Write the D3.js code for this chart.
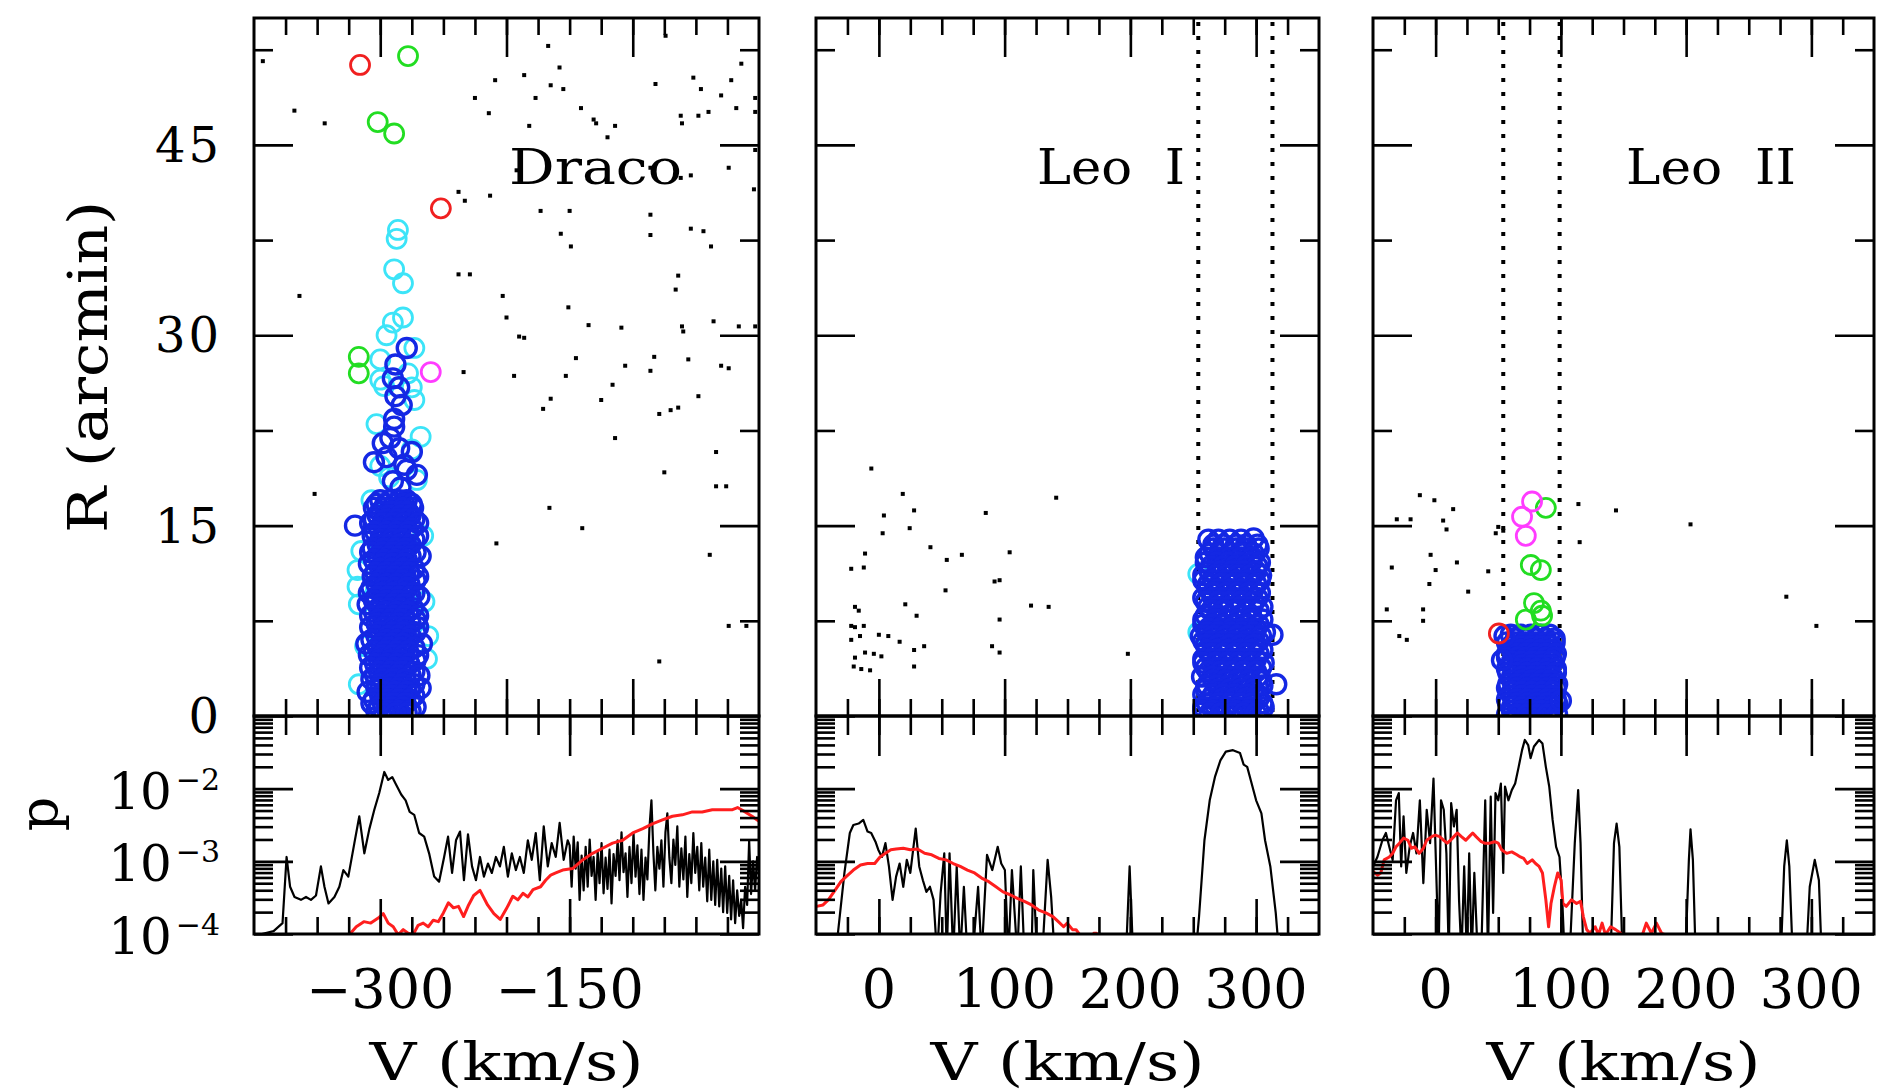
<!DOCTYPE html>
<html>
<head>
<meta charset="utf-8">
<title>Draco, Leo I, Leo II velocities</title>
<style>
  body { margin: 0; background: #fff; }
  text { font-family: "DejaVu Serif", serif; fill: #000; }
  .frame { fill: none; stroke: #000; stroke-width: 3; }
  .tk line { stroke: #000; stroke-width: 2.6; }
  .star { fill: #000; }
  .ring { fill: none; }
  .cut { stroke: #000; stroke-width: 4; stroke-dasharray: 4 10; }
  .obs { fill: none; stroke: #000; stroke-width: 2.2; stroke-linejoin: round; }
  .mw { fill: none; stroke: #ff1e1e; stroke-width: 3; stroke-linejoin: round; }
</style>
</head>
<body>
<svg width="1877" height="1091"></svg>
<script src="https://d3js.org/d3.v7.min.js"></script>
<script>

// ---- data: [V (km/s), R (arcmin)] ----
var dracoRange = [-400, 0], leo1Range = [-50, 350], leo2Range = [-50, 350];
var rRange = [0, 55], pRange = [1e-4, 1e-1];

var dracoStars = [
  [-393,51.6],[-368,47.7],[-344,46.7],[-364,33.1],[-352,17.5],[-208,13.6],[-166,16.4],[-140,14.8],[-39,12.7],[-79,4.3],
  [-24,7.1],[-10,7.1],[-34,18.1],[-26,18.1],[-75,19.2],[-34,20.8],[-114,21.9],[-165,25.0],[-171,24.2],[-125,24.9],
  [-79,23.8],[-70,24.1],[-64,24.3],[-48,25.2],[-194,26.8],[-153,26.8],[-116,26.1],[-234,27.1],[-190,29.9],[-186,29.8],
  [-145,28.2],[-106,27.6],[-86,27.2],[-83,28.3],[-56,28.1],[-30,27.6],[-24,27.4],[-135,30.8],[-109,30.6],[-61,30.7],
  [-60,30.3],[-36,31.1],[-16,30.7],[-3,30.7],[-203,33.1],[-200,31.4],[-151,32.2],[-64,34.7],[-66,33.6],[-238,34.8],
  [-229,34.8],[-157,38.0],[-149,37.0],[-86,37.9],[-86,39.5],[-54,38.4],[-44,38.2],[-38,37.0],[-173,39.8],[-150,39.8],
  [-238,41.3],[-233,40.6],[-213,41.0],[-192,43.0],[-189,42.4],[-62,42.4],[-54,42.6],[-4,41.5],[-86,43.2],[-24,43.2],
  [-225,48.7],[-214,47.5],[-209,50.1],[-186,50.5],[-182,46.5],[-177,48.7],[-165,49.7],[-155,49.4],[-158,51.1],[-141,47.9],
  [-131,47.0],[-129,46.7],[-120,45.6],[-114,46.5],[-82,49.8],[-52,50.3],[-46,49.4],[-30,48.9],[-22,50.1],[-48,47.3],
  [-40,47.6],[-18,47.9],[-62,47.3],[-61,46.7],[-14,51.4],[-3,48.7],[-3,47.6],[-74,53.6],[-167,52.8],[-3,44.6]
];
var dracoCyan = [
  [-286,38.3],[-287,37.6],[-289,35.2],[-282,34.1],[-282,31.4],[-290,31.0],[-295,30.0],[-273,29.0],[-300,28.1],[-278,27.0],
  [-300,26.5],[-297,26.0],[-275,25.9],[-273,24.9],[-303,23.0],[-268,22.0],[-275,21.0],[-300,19.7],[-271,18.6],[-293,18.8],
  [-307,17.0],[-266,14.2],[-315,13.0],[-318,11.5],[-318,10.2],[-317,8.8],[-265,9.0],[-262,6.3],[-312,5.5],[-263,4.5],[-317,2.5]
];
var dracoBlue = [
  [-279,29.0],[-288,27.7],[-285,25.9],[-288,25.2],[-290,26.6],[-283,24.5],[-289,23.4],[-289,22.8],[-292,21.9],[-298,21.5],
  [-285,21.1],[-295,20.4],[-305,20.0],[-275,20.8],[-281,19.8],[-279,19.4],[-271,19.0],[-320,15.0],[-290,18.5],[-284,18.0],
  [-300,17.0],[-292,17.0],[-285,17.0],[-279,17.0],
  [-303,16.7],[-296,16.7],[-289,16.7],[-281,16.7],[-275,16.7],
  [-305,16.4],[-296,16.4],[-288,16.4],[-282,16.4],[-274,16.4],
  [-300,16.1],[-291,16.1],[-283,16.1],[-278,16.1],
  [-302,15.8],[-293,15.8],[-284,15.8],[-276,15.8],
  [-305,15.5],[-295,15.5],[-287,15.5],[-279,15.5],[-273,15.5],
  [-308,15.2],[-298,15.2],[-290,15.2],[-281,15.2],[-270,15.2],
  [-301,14.8],[-292,14.8],[-284,14.8],[-275,14.8],
  [-304,14.5],[-295,14.5],[-287,14.5],[-278,14.5],
  [-306,14.2],[-296,14.2],[-288,14.2],[-279,14.2],[-270,14.2],
  [-300,13.9],[-291,13.9],[-283,13.9],[-273,13.9],
  [-302,13.5],[-293,13.5],[-285,13.5],[-276,13.5],
  [-306,13.2],[-297,13.2],[-288,13.2],[-280,13.2],
  [-308,12.9],[-298,12.9],[-290,12.9],[-281,12.9],[-272,12.9],
  [-302,12.6],[-293,12.6],[-285,12.6],[-276,12.6],[-268,12.6],
  [-305,12.3],[-296,12.3],[-288,12.3],[-279,12.3],
  [-309,12.0],[-298,12.0],[-290,12.0],[-281,12.0],
  [-300,11.6],[-291,11.6],[-282,11.6],[-273,11.6],
  [-304,11.3],[-295,11.3],[-286,11.3],[-277,11.3],
  [-306,11.0],[-297,11.0],[-289,11.0],[-280,11.0],[-270,11.0],
  [-300,10.7],[-291,10.7],[-283,10.7],[-272,10.7],
  [-303,10.4],[-295,10.4],[-287,10.4],[-277,10.4],
  [-307,10.1],[-297,10.1],[-288,10.1],[-279,10.1],
  [-309,9.7],[-299,9.7],[-290,9.7],[-281,9.7],[-273,9.7],
  [-303,9.4],[-294,9.4],[-285,9.4],[-276,9.4],[-269,9.4],
  [-305,9.1],[-295,9.1],[-286,9.1],[-277,9.1],
  [-310,8.8],[-299,8.8],[-290,8.8],[-281,8.8],
  [-301,8.5],[-293,8.5],[-284,8.5],[-274,8.5],
  [-305,8.2],[-296,8.2],[-287,8.2],[-278,8.2],
  [-308,7.9],[-298,7.9],[-289,7.9],[-281,7.9],[-270,7.9],
  [-301,7.6],[-292,7.6],[-284,7.6],[-272,7.6],
  [-303,7.3],[-294,7.3],[-286,7.3],[-276,7.3],
  [-308,7.0],[-297,7.0],[-289,7.0],[-280,7.0],[-270,7.0],
  [-300,6.6],[-290,6.6],[-282,6.6],[-272,6.6],
  [-303,6.3],[-294,6.3],[-286,6.3],[-276,6.3],
  [-307,6.0],[-295,6.0],[-287,6.0],[-278,6.0],
  [-311,5.7],[-299,5.7],[-291,5.7],[-282,5.7],[-267,5.7],
  [-302,5.4],[-293,5.4],[-284,5.4],[-273,5.4],
  [-305,5.1],[-296,5.1],[-287,5.1],[-278,5.1],
  [-309,4.8],[-298,4.8],[-290,4.8],[-281,4.8],[-270,4.8],
  [-301,4.4],[-292,4.4],[-284,4.4],[-272,4.4],
  [-304,4.1],[-295,4.1],[-287,4.1],[-277,4.1],
  [-308,3.8],[-298,3.8],[-289,3.8],[-280,3.8],
  [-301,3.5],[-292,3.5],[-283,3.5],[-273,3.5],
  [-304,3.2],[-295,3.2],[-286,3.2],[-276,3.2],[-269,3.2],
  [-307,2.9],[-298,2.9],[-290,2.9],[-280,2.9],
  [-300,2.5],[-291,2.5],[-283,2.5],[-273,2.5],
  [-303,2.2],[-294,2.2],[-286,2.2],[-276,2.2],[-268,2.2],
  [-310,1.9],[-297,1.9],[-288,1.9],[-279,1.9],
  [-300,1.6],[-291,1.6],[-282,1.6],[-273,1.6],
  [-305,1.3],[-294,1.3],[-285,1.3],[-276,1.3],
  [-307,1.0],[-298,1.0],[-289,1.0],[-280,1.0],
  [-301,0.7],[-291,0.7],[-282,0.7],[-272,0.7],
  [-303,0.4],[-294,0.4],[-285,0.4],[-276,0.4],
  [-297,0.2],[-288,0.2],[-279,0.2]
];
var dracoGreen = [[-278,52.0],[-302,46.8],[-289,45.9],[-317,28.3],[-317,27.0]];
var dracoRed = [[-316,51.3],[-252,40.0]];
var dracoMagenta = [[-260,27.1]];

var leo1Stars = [
  [-6,19.5],[19,17.5],[28,16.2],[4,15.8],[24.5,14.8],[3,14.4],[85,16.0],[141,17.2],[-11,12.8],[-22,11.6],
  [-12,11.7],[41,13.3],[54,12.3],[66,12.7],[104,12.9],[92,10.6],[96,10.7],[53,9.9],[21,8.8],[30,7.9],
  [121,8.7],[135,8.6],[96,7.6],[-19,8.6],[-16,8.3],[-22,7.1],[-19,7.0],[-12,7.1],[-22,6.0],[-15,6.3],
  [0,6.4],[7.5,6.3],[16.5,5.85],[-11,5.0],[-4,4.9],[2,4.7],[-19,4.6],[-20,3.9],[-14,3.7],[-7,3.6],
  [28,5.2],[36,5.5],[28,3.9],[90,5.5],[96,5.0],[198,4.9]
];
var leo1Cyan = [[254,11.2],[254,6.6]];
var leo1Blue = [
  [262,13.9],[270,13.9],[279,13.9],[288,13.9],[298,14.0],
  [266,13.5],[274,13.5],[284,13.5],[292,13.5],[301,13.5],
  [266,13.2],[275,13.2],[284,13.2],[293,13.2],[302,13.2],
  [263,12.8],[271,12.8],[280,12.8],[289,12.8],[298,12.8],
  [260,12.5],[270,12.5],[279,12.5],[288,12.5],[297,12.5],
  [260,12.1],[269,12.1],[278,12.1],[287,12.1],[296,12.1],[303,12.1],
  [264,11.8],[274,11.8],[283,11.8],[292,11.8],[301,11.8],
  [263,11.4],[272,11.4],[281,11.4],[290,11.4],[300,11.4],
  [258,11.1],[268,11.1],[277,11.1],[286,11.1],[296,11.1],[304,11.1],
  [258,10.7],[266,10.7],[276,10.7],[285,10.7],[294,10.7],[303,10.7],
  [262,10.4],[272,10.4],[281,10.4],[290,10.4],[300,10.4],
  [262,10.0],[270,10.0],[280,10.0],[289,10.0],[298,10.0],
  [266,9.7],[276,9.7],[285,9.7],[294,9.7],[303,9.7],
  [258,9.3],[266,9.3],[274,9.3],[283,9.3],[292,9.3],[301,9.3],
  [260,9.0],[270,9.0],[279,9.0],[288,9.0],[298,9.0],
  [262,8.6],[270,8.6],[279,8.6],[288,8.6],[297,8.6],[305,8.6],
  [264,8.3],[274,8.3],[283,8.3],[292,8.3],[302,8.3],
  [260,7.9],[269,7.9],[278,7.9],[287,7.9],[296,7.9],
  [258,7.6],[268,7.6],[277,7.6],[286,7.6],[296,7.6],[305,7.6],
  [258,7.2],[266,7.2],[275,7.2],[284,7.2],[293,7.2],[302,7.2],
  [262,6.9],[272,6.9],[281,6.9],[290,6.9],[300,6.9],
  [261,6.6],[270,6.6],[280,6.6],[289,6.6],[298,6.6],[307,6.6],
  [256,6.3],[266,6.3],[276,6.3],[285,6.3],[294,6.3],[304,6.3],[313,6.4],
  [258,5.9],[265,5.9],[274,5.9],[283,5.9],[292,5.9],[302,5.9],
  [260,5.6],[270,5.6],[279,5.6],[288,5.6],[298,5.6],
  [261,5.2],[269,5.2],[278,5.2],[287,5.2],[296,5.2],[305,5.2],
  [264,4.9],[274,4.9],[283,4.9],[292,4.9],[302,4.9],
  [258,4.5],[265,4.5],[273,4.5],[282,4.5],[291,4.5],[300,4.5],
  [258,4.2],[268,4.2],[277,4.2],[286,4.2],[296,4.2],[306,4.2],
  [260,3.8],[269,3.8],[278,3.8],[287,3.8],[296,3.8],[304,3.8],
  [262,3.5],[272,3.5],[281,3.5],[290,3.5],[300,3.5],
  [257,3.1],[265,3.1],[274,3.1],[283,3.1],[292,3.1],[301,3.1],
  [266,2.8],[276,2.8],[285,2.8],[294,2.8],[304,2.8],
  [261,2.4],[269,2.4],[278,2.4],[287,2.4],[296,2.4],[305,2.4],
  [260,2.1],[270,2.1],[279,2.1],[288,2.1],[298,2.1],[316,2.5],
  [258,1.7],[266,1.7],[274,1.7],[283,1.7],[292,1.7],[301,1.7],
  [264,1.4],[274,1.4],[283,1.4],[292,1.4],[302,1.4],
  [261,1.0],[270,1.0],[279,1.0],[288,1.0],[297,1.0],[305,1.0],
  [258,0.7],[268,0.7],[277,0.7],[286,0.7],[296,0.7],[306,0.7],
  [258,0.4],[266,0.4],[275,0.4],[284,0.4],[293,0.4],[302,0.4],
  [263,0.2],[272,0.2],[281,0.2],[290,0.2],[300,0.2]
];

var leo2Stars = [
  [-12.6,17.4],[-1,17.0],[14,16.3],[-31,15.5],[-20,15.5],[6,15.4],[8.7,14.7],[50,14.9],[48,14.4],[54,14.6],
  [114,16.7],[144,16.2],[203.5,15.1],[115,13.7],[-4,12.7],[17,12.1],[-35,11.7],[0,11.5],[42,11.4],[-5,10.4],
  [26,9.8],[-39,8.4],[-10,8.4],[-10,7.5],[-29,6.3],[-23,6.0],[280,9.4],[304,7.1]
];
var leo2Blue = [
  [60,6.4],[68,6.4],[76,6.4],[84,6.4],[91,6.4],
  [64,6.1],[72,6.1],[80,6.1],[88,6.1],[95,6.1],
  [57,5.8],[64,5.8],[72,5.8],[80,5.8],[88,5.8],[95,5.8],
  [60,5.5],[68,5.5],[76,5.5],[84,5.5],[92,5.5],
  [61,5.2],[68,5.2],[76,5.2],[84,5.2],[92,5.2],
  [57,4.9],[64,4.9],[72,4.9],[80,4.9],[88,4.9],[96,4.9],
  [57,4.6],[65,4.6],[72,4.6],[80,4.6],[88,4.6],[95,4.6],
  [61,4.3],[69,4.3],[77,4.3],[85,4.3],[93,4.3],
  [61,4.0],[69,4.0],[77,4.0],[85,4.0],[92,4.0],
  [57,3.7],[65,3.7],[73,3.7],[81,3.7],[89,3.7],[96,3.7],
  [58,3.4],[65,3.4],[73,3.4],[81,3.4],[89,3.4],[96,3.4],
  [61,3.1],[69,3.1],[77,3.1],[85,3.1],[93,3.1],
  [61,2.8],[69,2.8],[77,2.8],[85,2.8],[92,2.8],
  [58,2.5],[65,2.5],[73,2.5],[81,2.5],[89,2.5],[97,2.5],
  [57,2.2],[65,2.2],[73,2.2],[81,2.2],[89,2.2],[96,2.2],
  [61,1.9],[69,1.9],[77,1.9],[85,1.9],[93,1.9],
  [61,1.6],[69,1.6],[77,1.6],[85,1.6],[93,1.6],
  [57,1.3],[65,1.3],[73,1.3],[81,1.3],[89,1.3],[96,1.3],
  [58,1.0],[65,1.0],[73,1.0],[81,1.0],[89,1.0],[97,1.0],
  [61,0.7],[69,0.7],[77,0.7],[85,0.7],[93,0.7],
  [61,0.4],[69,0.4],[77,0.4],[85,0.4],[93,0.4],
  [57,0.1],[65,0.1],[73,0.1],[81,0.1],[89,0.1],[97,0.1],
  [55,6.3],[53,4.4],[100,1.2]
];
var leo2Green = [[88,16.4],[76,11.9],[84,11.5],[78.5,8.9],[84,8.3],[72,7.6],[85,7.9]];
var leo2Magenta = [[77,16.9],[69,15.7],[72,14.2]];
var leo2Red = [[50.5,6.5]];

// membership velocity cuts (dotted lines)
var leo1Cuts = [254, 313];
var leo2Cuts = [54, 99];

// ---- lower panels: [V (km/s), log10 p] ----
var dracoObs = [
  [-400,-4.02],[-398,-4.02],[-384.5,-3.96],[-377.4,-3.85],[-374.2,-2.94],[-371.4,-3.35],[-367.9,-3.49],[-362.8,-3.53],
  [-358.8,-3.49],[-354.9,-3.53],[-350.9,-3.47],[-347,-3.07],[-344.2,-3.35],[-341,-3.58],[-336.3,-3.49],[-332.4,-3.35],
  [-329.2,-3.12],[-325.3,-3.21],[-320.5,-2.75],[-316.6,-2.38],[-312.6,-2.89],[-308.7,-2.56],[-304.7,-2.29],[-300.8,-2.06],
  [-296.8,-1.77],[-293.7,-1.88],[-290.5,-1.84],[-287.3,-1.95],[-283.4,-2.08],[-279.9,-2.16],[-276.7,-2.32],[-273.1,-2.36],
  [-269.2,-2.61],[-265.2,-2.66],[-261.3,-2.89],[-257.3,-3.21],[-253.4,-3.28],[-249.4,-2.94],[-246.3,-2.66],[-243.1,-3.16],
  [-240,-2.71],[-236.8,-2.59],[-233.7,-3.26],[-230.5,-2.63],[-227.3,-3.07],[-224.2,-3.26],[-221,-2.94],[-217.9,-3.21],
  [-214.7,-3.03],[-211.6,-3.16],[-208.4,-2.94],[-205.2,-3.07],[-202.1,-2.80],[-198.9,-3.21],[-195.8,-2.89],[-192.6,-3.12],
  [-189.4,-2.94],[-186.3,-3.16],[-183.1,-2.71],[-180,-2.98],[-176.8,-2.61],[-173.6,-3.26],[-170.5,-2.52],[-167.3,-3.07],
  [-164.2,-2.75],[-161,-2.94],[-157.9,-2.47],[-154.7,-2.98],[-151.5,-2.71],
  [-150.0,-2.78],[-148.4,-3.35],[-146.8,-2.66],[-145.2,-3.10],[-143.6,-2.74],[-142.1,-3.53],[-140.5,-2.92],[-138.9,-3.40],
  [-137.3,-2.80],[-135.7,-3.35],[-134.1,-2.70],[-132.6,-3.20],[-131.0,-2.94],[-129.4,-3.53],[-127.8,-2.86],[-126.3,-3.30],
  [-124.7,-2.75],[-123.1,-3.44],[-121.5,-2.95],[-120.0,-3.38],[-118.4,-2.84],[-116.8,-3.58],[-115.2,-2.90],[-113.6,-3.20],
  [-112.0,-2.71],[-110.5,-3.26],[-108.9,-2.60],[-107.3,-3.15],[-105.7,-2.89],[-104.2,-3.49],[-102.6,-2.80],[-101.0,-3.30],
  [-99.4,-2.61],[-97.8,-3.21],[-96.3,-2.78],[-94.7,-3.45],[-93.1,-2.84],[-91.5,-3.53],[-89.9,-2.95],[-88.4,-3.25],
  [-86.8,-2.55],[-85.2,-2.16],[-83.6,-2.90],[-82.1,-3.40],[-80.5,-2.80],[-78.9,-3.10],[-77.3,-2.71],[-75.7,-3.35],
  [-74.1,-2.60],[-72.6,-2.34],[-71.0,-2.95],[-69.4,-3.30],[-67.8,-2.70],[-66.3,-3.05],[-64.7,-2.52],[-63.1,-3.35],
  [-61.5,-2.82],[-59.9,-3.25],[-58.3,-2.66],[-56.8,-3.49],[-55.2,-2.90],[-53.6,-3.30],[-52.0,-2.61],[-50.5,-3.16],
  [-48.9,-2.80],[-47.3,-3.40],[-45.7,-2.75],[-44.2,-3.35],[-42.6,-2.95],[-41.0,-3.55],[-39.4,-2.84],[-37.8,-3.53],
  [-36.2,-3.00],[-34.7,-3.60],[-33.1,-2.98],[-31.5,-3.62],[-29.9,-3.10],[-28.4,-3.70],[-26.8,-3.07],[-25.2,-3.71],
  [-23.6,-3.20],[-22.1,-3.80],[-20.5,-3.26],[-18.9,-3.85],[-17.3,-3.40],[-15.7,-3.75],[-14.1,-3.53],[-12.6,-3.92],
  [-11.0,-3.35],[-9.4,-3.60],[-7.8,-2.71],[-6.3,-3.45],[-4.7,-3.00],[-3.1,-3.40],[-1.5,-2.94],[0,-3.16]
];
var dracoMW = [
  [-325,-4.02],[-319,-3.90],[-313,-3.83],[-307.5,-3.85],[-301.6,-3.78],[-297.6,-3.72],[-293.7,-3.85],[-289.7,-3.90],
  [-285.8,-4.01],[-281.8,-3.94],[-277.9,-3.99],[-274,-4.01],[-270,-3.88],[-266,-3.85],[-262,-3.90],[-258,-3.81],
  [-254,-3.83],[-250,-3.71],[-246,-3.57],[-242,-3.64],[-238,-3.62],[-234,-3.76],[-230,-3.60],[-226,-3.47],[-221,-3.40],
  [-215,-3.60],[-210,-3.72],[-205,-3.80],[-200,-3.65],[-195,-3.48],[-191,-3.53],[-187,-3.44],[-183,-3.49],[-179,-3.39],
  [-173,-3.35],[-169,-3.26],[-165,-3.19],[-161,-3.16],[-155.5,-3.12],[-147.6,-3.10],[-139.7,-2.98],[-131.8,-2.89],
  [-123.9,-2.82],[-116,-2.75],[-108,-2.71],[-100,-2.61],[-92,-2.55],[-84,-2.48],[-76.5,-2.43],[-68.6,-2.38],
  [-60.7,-2.36],[-52.8,-2.32],[-45,-2.32],[-37,-2.29],[-29,-2.29],[-21,-2.29],[-17,-2.26],[-11,-2.32],[-5.5,-2.38],[0,-2.45]
];
var leo1Obs = [
  [-50,-4.3],[-34.5,-4.3],[-27.4,-3.16],[-23.1,-2.61],[-20.3,-2.50],[-16.1,-2.48],[-12.4,-2.43],[-9,-2.59],[-6.1,-2.61],
  [-2.7,-2.73],[-0.5,-2.84],[2.4,-2.94],[5.2,-2.75],[8,-3.07],[10.9,-3.53],[13.7,-3.21],[16.5,-3.03],[19.4,-3.35],
  [22.2,-2.98],[25,-3.16],[29.3,-2.55],[32.1,-3.07],[35,-3.26],[37.8,-3.42],[40.6,-3.35],[43.5,-3.53],[46.3,-4.3],
  [49.1,-3.44],[52,-2.89],[54,-4.3],[56.2,-2.89],[59.1,-4.3],[61.9,-3.07],[64.7,-4.3],[67.6,-3.35],[70.4,-4.3],
  [74.6,-4.3],[78.9,-3.35],[81.7,-4.3],[86,-2.91],[90.2,-3.12],[94.5,-2.80],[97.3,-3.03],[100.2,-3.12],[103,-4.3],
  [105.8,-3.12],[110.1,-4.3],[112.9,-3.07],[115.7,-4.3],[121.4,-4.3],[122.8,-3.12],[125.7,-4.3],[129.9,-4.3],
  [134.2,-2.98],[137,-3.49],[139.8,-4.3],[196.5,-4.3],[199.4,-3.07],[202.2,-4.3],[251.8,-4.3],[254.6,-3.76],
  [258.9,-2.71],[263.1,-2.16],[267.4,-1.83],[271.6,-1.61],[275.9,-1.49],[281.6,-1.47],[287.2,-1.51],[290.1,-1.67],
  [292.9,-1.70],[295.7,-1.88],[300,-2.16],[304.2,-2.34],[307.1,-2.71],[311.3,-3.07],[315.6,-3.71],[318.4,-4.3],[350,-4.3]
];
var leo1MW = [
  [-49.5,-3.62],[-44.4,-3.60],[-40.2,-3.53],[-34.5,-3.39],[-30.2,-3.28],[-26,-3.21],[-20.3,-3.12],[-14.6,-3.05],
  [-9,-3.03],[-3.3,-3.03],[0.9,-2.94],[5.2,-2.89],[9.5,-2.84],[13.7,-2.83],[19.4,-2.82],[25,-2.84],[30.7,-2.83],
  [36.4,-2.89],[42,-2.91],[47.7,-2.96],[53.4,-2.98],[59.1,-3.03],[64.7,-3.07],[70.4,-3.12],[76.1,-3.16],[81.7,-3.23],
  [87.4,-3.28],[93.1,-3.35],[98.7,-3.42],[104.4,-3.46],[110.1,-3.51],[115.7,-3.55],[121.4,-3.60],[127.1,-3.67],
  [132.8,-3.71],[138.4,-3.76],[142.7,-3.83],[146.9,-3.90],[149.8,-3.85],[154,-3.94],[156.8,-3.94],[159.7,-4.01],
  [162,-4.3],[168,-4.3],[171,-3.99],[173,-3.99],[175,-4.3]
];
var leo2Obs = [
  [-50,-3.07],[-46.5,-2.94],[-42.5,-2.71],[-39.7,-2.61],[-37,-2.80],[-34.3,-2.98],[-31.6,-2.16],[-29.4,-2.06],
  [-27.5,-3.07],[-25.6,-2.38],[-23.4,-3.16],[-20.7,-2.80],[-18,-2.61],[-15.3,-2.89],[-12.6,-2.16],[-9.8,-3.30],
  [-7.1,-2.29],[-4.4,-2.75],[-1.7,-1.86],[0.5,-3.16],[2.4,-4.3],[4.3,-2.16],[6.5,-2.29],[8.6,-2.89],[10.5,-4.3],
  [12.4,-2.20],[14.6,-2.52],[16.8,-2.29],[18.7,-3.53],[20.6,-4.3],[22.8,-3.07],[24.9,-4.3],[26.8,-2.89],[28.8,-4.3],
  [30.9,-3.16],[33.6,-4.3],[36.4,-4.3],[39.6,-2.16],[41.8,-4.3],[44,-2.11],[45.9,-3.71],[47.8,-2.06],[50,-2.16],
  [52.1,-1.93],[54,-3.16],[55.4,-1.97],[58.1,-2.16],[60.8,-2.02],[63.5,-1.93],[66.3,-1.70],[69,-1.47],[71.2,-1.33],
  [73.9,-1.40],[75.8,-1.58],[78.5,-1.42],[82.6,-1.33],[85.3,-1.38],[88,-1.70],[90.7,-1.97],[93.4,-2.43],[96.2,-2.80],
  [98.9,-2.94],[101.1,-3.53],[103,-4.3],[107,-4.3],[111.1,-2.75],[113.8,-2.02],[115.7,-2.75],[117.9,-4.3],[139.7,-4.3],
  [142.4,-2.75],[144.5,-2.48],[146.7,-2.80],[149.2,-4.3],[199.4,-4.3],[202.2,-2.98],[203.5,-2.56],[205.4,-2.98],
  [207.6,-4.3],[275.6,-4.3],[278.3,-3.07],[280.4,-2.71],[282.4,-3.07],[285.1,-4.3],[295.9,-4.3],[298.7,-3.35],
  [302.7,-2.98],[306,-3.26],[308.2,-4.3],[350,-4.3]
];
var leo2MW = [
  [-50,-3.14],[-46.5,-3.19],[-43.8,-3.16],[-41.1,-2.98],[-37,-2.94],[-34.3,-2.89],[-31.6,-2.80],[-28.9,-2.75],
  [-25.6,-2.68],[-22.1,-2.71],[-19.4,-2.82],[-16.6,-2.80],[-13.1,-2.89],[-9.8,-2.82],[-7.1,-2.71],[-3.1,-2.66],
  [-0.3,-2.64],[3.2,-2.66],[6.5,-2.71],[9.2,-2.75],[11.9,-2.71],[14.6,-2.66],[17.3,-2.61],[20.6,-2.66],[24.1,-2.71],
  [26.8,-2.66],[29.6,-2.61],[32.3,-2.66],[36.4,-2.73],[39.1,-2.75],[43.2,-2.75],[47.2,-2.73],[50,-2.75],[52.7,-2.84],
  [56.7,-2.89],[60.8,-2.87],[64.9,-2.91],[67.6,-2.94],[70.3,-2.96],[73.1,-3.03],[77.1,-2.98],[79.8,-3.03],[82.6,-3.07],
  [85.3,-3.16],[88,-3.53],[90.2,-3.90],[92.1,-3.58],[94.8,-3.35],[97.5,-3.16],[100.2,-3.26],[101.6,-3.58],[104.3,-3.62],
  [108.4,-3.53],[112.5,-3.58],[115.7,-3.55],[117.9,-3.76],[120.6,-3.94],[123.3,-3.99],[127.4,-3.90],[130.1,-4.01],
  [132.9,-3.85],[135.6,-4.01],[139.7,-3.90],[143.7,-3.94],[147.8,-3.99],[150.5,-4.05],[155,-4.3],[162,-4.3],
  [165.5,-3.99],[168.2,-3.85],[172.3,-3.99],[176.3,-3.85],[180.4,-3.99],[183.1,-4.01],[186,-4.3]
];

// ---- tick labels ----
var dracoTickLabels = [-300, -150];
var leoTickLabels = [0, 100, 200, 300];
var rTickLabels = [0, 15, 30, 45];
var pTickLabels = [-2, -3, -4];
var panelNames = ["Draco", "Leo  I", "Leo  II"];

// ---- layout ----
var svg = d3.select("svg");
var upperTop = 18, mid = 716, lowerBottom = 934;
var lefts = [254, 816, 1373], rights = [759, 1319, 1874];
var nameX = [255, 221, 253], nameLen = [173, 148, 170];
var cyan = "#3ce4f8", blue = "#1428e4", green = "#22dd22", red = "#f02020", magenta = "#ff3cff";

var panels = [
  { domain: dracoRange, stars: dracoStars, cuts: [],
    rings: [[dracoCyan, cyan], [dracoBlue, blue], [dracoGreen, green], [dracoRed, red], [dracoMagenta, magenta]],
    obs: dracoObs, mw: dracoMW, upMajor: [-300, -200, -100], lowMajor: [-300, -150], xLabels: dracoTickLabels },
  { domain: leo1Range, stars: leo1Stars, cuts: leo1Cuts,
    rings: [[leo1Cyan, cyan], [leo1Blue, blue]],
    obs: leo1Obs, mw: leo1MW, upMajor: [0, 100, 200, 300], lowMajor: [0, 100, 200, 300], xLabels: leoTickLabels },
  { domain: leo2Range, stars: leo2Stars, cuts: leo2Cuts,
    rings: [[leo2Blue, blue], [leo2Green, green], [leo2Magenta, magenta], [leo2Red, red]],
    obs: leo2Obs, mw: leo2MW, upMajor: [0, 100, 200, 300], lowMajor: [0, 100, 200, 300], xLabels: leoTickLabels }
];

var yR = d3.scaleLinear().domain(rRange).range([mid, upperTop]);
var yP = d3.scaleLog().domain(pRange).range([lowerBottom, mid]);
var logMajor = [1e-4, 1e-3, 1e-2, 1e-1];
var logMinor = [];
[-4, -3, -2].forEach(function (k) { for (var m = 2; m <= 9; m++) logMinor.push(m * Math.pow(10, k)); });

function ticks(g, axis, values, size, tr) {
  g.append("g").attr("class", "tk").attr("transform", tr)
    .call(axis.tickValues(values).tickSize(size).tickFormat(""))
    .call(function (a) { a.select(".domain").remove(); });
}

var defs = svg.append("defs");

panels.forEach(function (pn, i) {
  var L = lefts[i], R = rights[i];
  var x = d3.scaleLinear().domain(pn.domain).range([L, R]);
  var minor = d3.range(pn.domain[0] + 25, pn.domain[1], 25);
  var g = svg.append("g");

  defs.append("clipPath").attr("id", "cu" + i).append("rect")
    .attr("x", L).attr("y", upperTop).attr("width", R - L).attr("height", mid - upperTop);
  defs.append("clipPath").attr("id", "cl" + i).append("rect")
    .attr("x", L).attr("y", mid).attr("width", R - L).attr("height", lowerBottom - mid);

  // galaxy name (under the points, as in the original)
  g.append("text").attr("x", L + nameX[i]).attr("y", 184)
    .style("white-space", "pre").attr("font-size", 48)
    .attr("textLength", nameLen[i]).attr("lengthAdjust", "spacingAndGlyphs")
    .text(panelNames[i]);

  // upper panel content
  var up = g.append("g").attr("clip-path", "url(#cu" + i + ")");
  up.selectAll(".star").data(pn.stars).enter().append("rect").attr("class", "star")
    .attr("x", function (d) { return x(d[0]) - 2; })
    .attr("y", function (d) { return yR(d[1]) - 2; })
    .attr("width", 4).attr("height", 4);

  up.selectAll(".cut").data(pn.cuts).enter().append("line").attr("class", "cut")
    .attr("x1", function (d) { return x(d); }).attr("x2", function (d) { return x(d); })
    .attr("y1", upperTop + 4).attr("y2", mid);

  pn.rings.forEach(function (set) {
    up.append("g").selectAll("circle").data(set[0]).enter().append("circle")
      .attr("class", "ring")
      .style("stroke", set[1])
      .style("stroke-width", set[1] === blue ? 3.4 : 2.8)
      .attr("cx", function (d) { return x(d[0]); })
      .attr("cy", function (d) { return yR(d[1]); })
      .attr("r", 9.5);
  });

  // lower panel curves
  var line = d3.line().x(function (d) { return x(d[0]); }).y(function (d) { return yP(Math.pow(10, d[1])); });
  var low = g.append("g").attr("clip-path", "url(#cl" + i + ")");
  low.append("path").attr("class", "obs").attr("d", line(pn.obs));
  low.append("path").attr("class", "mw").attr("d", line(pn.mw));

  // ticks, upper panel
  ticks(g, d3.axisTop(x), minor, -17, "translate(0," + upperTop + ")");
  ticks(g, d3.axisTop(x), pn.upMajor, -39, "translate(0," + upperTop + ")");
  ticks(g, d3.axisBottom(x), minor, -17, "translate(0," + mid + ")");
  ticks(g, d3.axisBottom(x), pn.upMajor, -37, "translate(0," + mid + ")");
  ticks(g, d3.axisLeft(yR), [7.5, 22.5, 37.5, 52.5], -19, "translate(" + L + ",0)");
  ticks(g, d3.axisLeft(yR), [15, 30, 45], -39, "translate(" + L + ",0)");
  ticks(g, d3.axisRight(yR), [7.5, 22.5, 37.5, 52.5], -19, "translate(" + R + ",0)");
  ticks(g, d3.axisRight(yR), [15, 30, 45], -39, "translate(" + R + ",0)");

  // ticks, lower panel
  ticks(g, d3.axisTop(x), minor, -19, "translate(0," + mid + ")");
  ticks(g, d3.axisTop(x), pn.lowMajor, -40, "translate(0," + mid + ")");
  ticks(g, d3.axisBottom(x), minor, -17, "translate(0," + lowerBottom + ")");
  ticks(g, d3.axisBottom(x), pn.lowMajor, -35, "translate(0," + lowerBottom + ")");
  ticks(g, d3.axisLeft(yP), logMinor, -19, "translate(" + L + ",0)");
  ticks(g, d3.axisLeft(yP), logMajor, -39, "translate(" + L + ",0)");
  ticks(g, d3.axisRight(yP), logMinor, -19, "translate(" + R + ",0)");
  ticks(g, d3.axisRight(yP), logMajor, -39, "translate(" + R + ",0)");

  // frames
  g.append("rect").attr("class", "frame").attr("x", L).attr("y", upperTop)
    .attr("width", R - L).attr("height", mid - upperTop);
  g.append("rect").attr("class", "frame").attr("x", L).attr("y", mid)
    .attr("width", R - L).attr("height", lowerBottom - mid);

  // x tick labels
  g.selectAll(".xl").data(pn.xLabels).enter().append("text")
    .attr("x", function (d) { return x(d); }).attr("y", 1008)
    .attr("text-anchor", "middle").attr("font-size", 54)
    .text(function (d) { return d < 0 ? "\u2212" + Math.abs(d) : d; });

  // x axis title
  g.append("text").attr("x", (L + R) / 2).attr("y", 1080)
    .attr("text-anchor", "middle").attr("font-size", 52)
    .attr("textLength", 274).attr("lengthAdjust", "spacingAndGlyphs")
    .style("white-space", "pre")
    .text("V (km/s)");
});

// y tick labels (left panel only)
svg.selectAll(".rl").data(rTickLabels).enter().append("text")
  .attr("x", 222).attr("y", function (d) { return yR(d) + 17; })
  .attr("text-anchor", "end").attr("font-size", 48).attr("letter-spacing", 3)
  .text(function (d) { return d; });

var pl = svg.selectAll(".pl").data(pTickLabels).enter().append("text")
  .attr("x", 220).attr("y", function (d) { return yP(Math.pow(10, d)) + 20; })
  .attr("text-anchor", "end").attr("font-size", 50);
pl.append("tspan").text("10");
pl.append("tspan").attr("font-size", 30).attr("dx", 4).attr("dy", -19)
  .text(function (d) { return "\u2212" + Math.abs(d); });

// y axis titles
svg.append("text").attr("transform", "translate(107,367) rotate(-90)")
  .attr("text-anchor", "middle").attr("font-size", 54)
  .attr("textLength", 332).attr("lengthAdjust", "spacingAndGlyphs")
  .style("white-space", "pre").text("R (arcmin)");
svg.append("text").attr("transform", "translate(58,814) rotate(-90)")
  .attr("text-anchor", "middle").attr("font-size", 54).text("p");

</script>
</body>
</html>
